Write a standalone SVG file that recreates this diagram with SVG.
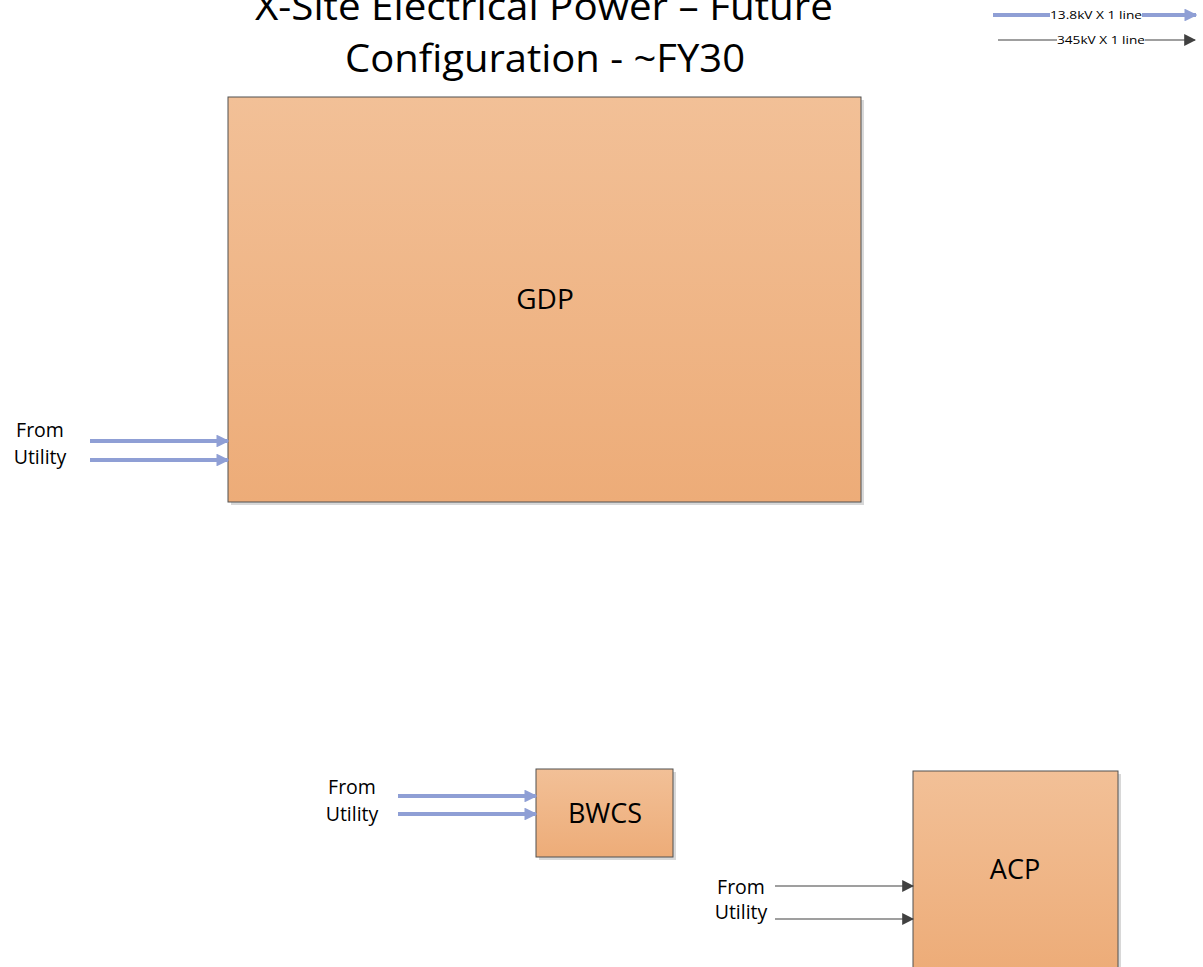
<svg xmlns="http://www.w3.org/2000/svg" width="1203" height="967" viewBox="0 0 1203 967">
<defs>
<linearGradient id="fill" x1="0" y1="0" x2="0" y2="1">
<stop offset="0" stop-color="#F2C097"/>
<stop offset="1" stop-color="#EDAC78"/>
</linearGradient>
<marker id="ab" viewBox="0 0 10 10" refX="9" refY="5" markerWidth="3.2" markerHeight="3.2" orient="auto" markerUnits="strokeWidth">
<path d="M0,0 L10,5 L0,10 z" fill="#8F9FD5"/>
</marker>
<marker id="ak" viewBox="0 0 10 10" refX="9" refY="5" markerWidth="10" markerHeight="10" orient="auto" markerUnits="strokeWidth">
<path d="M0,0 L10,5 L0,10 z" fill="#404040"/>
</marker>
</defs>
<style>
.box{fill:url(#fill);stroke:#505050;stroke-width:1;}
.sh{fill:#d8d8d8;}
.lbl{font-family:"Open Sans","Liberation Sans",sans-serif;fill:#000;}
.blue{stroke:#8F9FD5;stroke-width:4;fill:none;marker-end:url(#ab);}
.blk{stroke:#404040;stroke-width:1.2;fill:none;marker-end:url(#ak);}
.bl{stroke:#8F9FD5;stroke-width:4;}
.kl{stroke:#404040;stroke-width:1.2;}
.sm{font-family:"Open Sans","Liberation Sans",sans-serif;font-size:11px;fill:#000;}
</style>
<rect width="1203" height="967" fill="#fff"/>
<g id="title">
<text class="lbl" x="544" y="20" font-size="38" text-anchor="middle" textLength="578" lengthAdjust="spacingAndGlyphs">X-Site Electrical Power – Future</text>
<text class="lbl" x="545" y="72" font-size="38" text-anchor="middle" textLength="400" lengthAdjust="spacingAndGlyphs">Configuration - ~FY30</text>
</g>
<g id="legend">
<line class="bl" x1="993" y1="15" x2="1050" y2="15"/>
<text class="sm" x="1050" y="19" textLength="92" lengthAdjust="spacingAndGlyphs">13.8kV X 1 line</text>
<line class="blue" x1="1142" y1="15" x2="1196" y2="15"/>
<line class="kl" x1="998" y1="40" x2="1057" y2="40"/>
<text class="sm" x="1057" y="44" textLength="88" lengthAdjust="spacingAndGlyphs">345kV X 1 line</text>
<line class="blk" x1="1145" y1="40" x2="1195" y2="40"/>
</g>
<g id="GDP">
<rect class="sh" x="231" y="100" width="633" height="405"/>
<rect class="box" x="228" y="97" width="633" height="405"/>
<text class="lbl" x="545" y="309" font-size="28" text-anchor="middle">GDP</text>
</g>
<g id="BWCS">
<rect class="sh" x="539" y="772" width="137" height="88"/>
<rect class="box" x="536" y="769" width="137" height="88"/>
<text class="lbl" x="605" y="823" font-size="27" text-anchor="middle">BWCS</text>
</g>
<g id="ACP">
<rect class="sh" x="916" y="774" width="205" height="200"/>
<rect class="box" x="913" y="771" width="205" height="200"/>
<text class="lbl" x="1015" y="879" font-size="27" text-anchor="middle">ACP</text>
</g>
<g id="labels">
<text class="lbl" x="40" y="437" font-size="19.5" text-anchor="middle">From</text>
<text class="lbl" x="40" y="464" font-size="19.5" text-anchor="middle">Utility</text>
<text class="lbl" x="352" y="794" font-size="19.5" text-anchor="middle">From</text>
<text class="lbl" x="352" y="821" font-size="19.5" text-anchor="middle">Utility</text>
<text class="lbl" x="741" y="894" font-size="19.5" text-anchor="middle">From</text>
<text class="lbl" x="741" y="919" font-size="19.5" text-anchor="middle">Utility</text>
</g>
<g id="connectors">
<line class="blue" x1="90" y1="441" x2="228" y2="441"/>
<line class="blue" x1="90" y1="460" x2="228" y2="460"/>
<line class="blue" x1="398" y1="796" x2="536" y2="796"/>
<line class="blue" x1="398" y1="814" x2="536" y2="814"/>
<line class="blk" x1="775" y1="886" x2="913" y2="886"/>
<line class="blk" x1="775" y1="919" x2="913" y2="919"/>
</g>
</svg>
